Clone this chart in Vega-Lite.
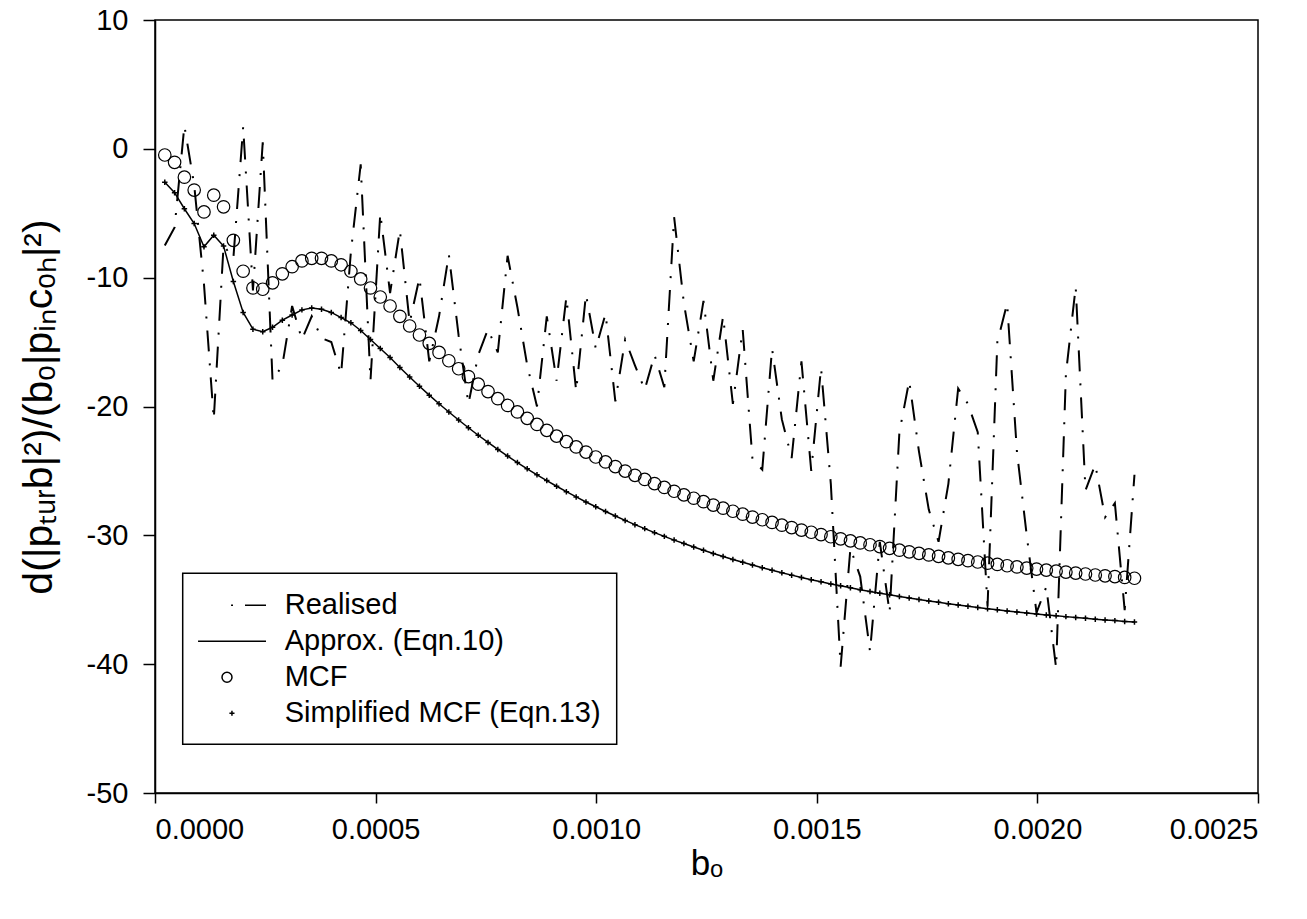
{
  "$schema": "https://vega.github.io/schema/vega-lite/v6.json",
  "width": 1103,
  "height": 773,
  "autosize": "none",
  "padding": {"left": 155, "top": 20, "right": 49, "bottom": 126},
  "background": "white",
  "config": {
    "view": {"stroke": "black", "strokeWidth": 1.5},
    "axis": {
      "labelFont": "Liberation Sans", "titleFont": "Liberation Sans",
      "labelColor": "black", "titleColor": "black", "domainColor": "black", "tickColor": "black",
      "domainWidth": 1.5, "tickWidth": 1.5, "grid": false, "titleFontWeight": "normal",
      "labelFontSize": 29
    },
    "axisY": {"tickCount": 6, "tickSize": 12, "labelPadding": 15, "titlePadding": 26, "titleFontSize": 41},
    "axisX": {"tickSize": 10, "labelPadding": 12, "titlePadding": 2, "titleFontSize": 35}
  },
  "data": {"values": [
    {"b":2.22e-5,"realised":-7.5,"approx":-2.6,"mcf":-0.48,"simplified":-2.6},
    {"b":4.44e-5,"realised":-6.1,"approx":-3.4,"mcf":-1.05,"simplified":-3.4},
    {"b":6.66e-5,"realised":1.8,"approx":-4.65,"mcf":-2.2,"simplified":-4.65},
    {"b":8.88e-5,"realised":-2.8,"approx":-5.8,"mcf":-3.2,"simplified":-5.8},
    {"b":1.11e-4,"realised":-10.5,"approx":-7.6,"mcf":-4.9,"simplified":-7.6},
    {"b":1.332e-4,"realised":-21,"approx":-6.7,"mcf":-3.6,"simplified":-6.7},
    {"b":1.554e-4,"realised":-7.5,"approx":-7.55,"mcf":-4.5,"simplified":-7.55},
    {"b":1.776e-4,"realised":-8.5,"approx":-10.3,"mcf":-7.1,"simplified":-10.3},
    {"b":1.998e-4,"realised":1.7,"approx":-12.7,"mcf":-9.5,"simplified":-12.7},
    {"b":2.22e-4,"realised":-11,"approx":-14.0,"mcf":-10.8,"simplified":-14.0},
    {"b":2.442e-4,"realised":0.5,"approx":-14.2,"mcf":-10.9,"simplified":-14.2},
    {"b":2.664e-4,"realised":-18,"approx":-13.85,"mcf":-10.4,"simplified":-13.85},
    {"b":2.886e-4,"realised":-16.8,"approx":-13.3,"mcf":-9.7,"simplified":-13.3},
    {"b":3.108e-4,"realised":-12.2,"approx":-12.9,"mcf":-9.15,"simplified":-12.9},
    {"b":3.33e-4,"realised":-14.8,"approx":-12.5,"mcf":-8.7,"simplified":-12.5},
    {"b":3.552e-4,"realised":-13,"approx":-12.35,"mcf":-8.5,"simplified":-12.35},
    {"b":3.774e-4,"realised":-14.7,"approx":-12.45,"mcf":-8.5,"simplified":-12.45},
    {"b":3.996e-4,"realised":-15,"approx":-12.7,"mcf":-8.7,"simplified":-12.7},
    {"b":4.218e-4,"realised":-17.5,"approx":-13.1,"mcf":-9.0,"simplified":-13.1},
    {"b":4.44e-4,"realised":-8,"approx":-13.5,"mcf":-9.5,"simplified":-13.5},
    {"b":4.662e-4,"realised":-1.2,"approx":-14.1,"mcf":-10.1,"simplified":-14.1},
    {"b":4.884e-4,"realised":-18,"approx":-14.8,"mcf":-10.8,"simplified":-14.8},
    {"b":5.106e-4,"realised":-5,"approx":-15.5,"mcf":-11.5,"simplified":-15.5},
    {"b":5.328e-4,"realised":-11.2,"approx":-16.2,"mcf":-12.2,"simplified":-16.2},
    {"b":5.55e-4,"realised":-6.3,"approx":-16.97,"mcf":-13.0,"simplified":-16.97},
    {"b":5.772e-4,"realised":-13.5,"approx":-17.71,"mcf":-13.75,"simplified":-17.71},
    {"b":5.994e-4,"realised":-10,"approx":-18.43,"mcf":-14.45,"simplified":-18.43},
    {"b":6.216e-4,"realised":-16.5,"approx":-19.12,"mcf":-15.1,"simplified":-19.12},
    {"b":6.438e-4,"realised":-13,"approx":-19.79,"mcf":-15.8,"simplified":-19.79},
    {"b":6.66e-4,"realised":-8.2,"approx":-20.43,"mcf":-16.45,"simplified":-20.43},
    {"b":6.882e-4,"realised":-14.5,"approx":-21.05,"mcf":-17.07,"simplified":-21.05},
    {"b":7.104e-4,"realised":-19.8,"approx":-21.65,"mcf":-17.68,"simplified":-21.65},
    {"b":7.326e-4,"realised":-16,"approx":-22.23,"mcf":-18.27,"simplified":-22.23},
    {"b":7.548e-4,"realised":-14,"approx":-22.79,"mcf":-18.84,"simplified":-22.79},
    {"b":7.77e-4,"realised":-15.8,"approx":-23.33,"mcf":-19.39,"simplified":-23.33},
    {"b":7.992e-4,"realised":-8.3,"approx":-23.85,"mcf":-19.92,"simplified":-23.85},
    {"b":8.214e-4,"realised":-12.3,"approx":-24.35,"mcf":-20.42,"simplified":-24.35},
    {"b":8.436e-4,"realised":-16.8,"approx":-24.84,"mcf":-20.92,"simplified":-24.84},
    {"b":8.658e-4,"realised":-20,"approx":-25.30,"mcf":-21.39,"simplified":-25.30},
    {"b":8.88e-4,"realised":-13,"approx":-25.75,"mcf":-21.85,"simplified":-25.75},
    {"b":9.102e-4,"realised":-18,"approx":-26.19,"mcf":-22.30,"simplified":-26.19},
    {"b":9.324e-4,"realised":-11.5,"approx":-26.61,"mcf":-22.73,"simplified":-26.61},
    {"b":9.546e-4,"realised":-18.8,"approx":-27.02,"mcf":-23.14,"simplified":-27.02},
    {"b":9.768e-4,"realised":-11.3,"approx":-27.41,"mcf":-23.54,"simplified":-27.41},
    {"b":9.99e-4,"realised":-15.5,"approx":-27.78,"mcf":-23.92,"simplified":-27.78},
    {"b":1.0212e-3,"realised":-12.8,"approx":-28.15,"mcf":-24.30,"simplified":-28.15},
    {"b":1.0434e-3,"realised":-19.6,"approx":-28.50,"mcf":-24.66,"simplified":-28.50},
    {"b":1.0656e-3,"realised":-14.8,"approx":-28.84,"mcf":-25.01,"simplified":-28.84},
    {"b":1.0878e-3,"realised":-16.8,"approx":-29.17,"mcf":-25.34,"simplified":-29.17},
    {"b":1.11e-3,"realised":-18.7,"approx":-29.48,"mcf":-25.66,"simplified":-29.48},
    {"b":1.1322e-3,"realised":-16,"approx":-29.79,"mcf":-25.98,"simplified":-29.79},
    {"b":1.1544e-3,"realised":-18.5,"approx":-30.08,"mcf":-26.28,"simplified":-30.08},
    {"b":1.1766e-3,"realised":-5.3,"approx":-30.37,"mcf":-26.58,"simplified":-30.37},
    {"b":1.1988e-3,"realised":-12,"approx":-30.64,"mcf":-26.86,"simplified":-30.64},
    {"b":1.221e-3,"realised":-16.5,"approx":-30.90,"mcf":-27.12,"simplified":-30.90},
    {"b":1.2432e-3,"realised":-11.8,"approx":-31.16,"mcf":-27.39,"simplified":-31.16},
    {"b":1.2654e-3,"realised":-18,"approx":-31.41,"mcf":-27.65,"simplified":-31.41},
    {"b":1.2876e-3,"realised":-13,"approx":-31.64,"mcf":-27.89,"simplified":-31.64},
    {"b":1.3098e-3,"realised":-19.8,"approx":-31.87,"mcf":-28.13,"simplified":-31.87},
    {"b":1.332e-3,"realised":-14,"approx":-32.09,"mcf":-28.36,"simplified":-32.09},
    {"b":1.3542e-3,"realised":-24.1,"approx":-32.31,"mcf":-28.58,"simplified":-32.31},
    {"b":1.3764e-3,"realised":-24.9,"approx":-32.51,"mcf":-28.79,"simplified":-32.51},
    {"b":1.3986e-3,"realised":-15.5,"approx":-32.71,"mcf":-29.00,"simplified":-32.71},
    {"b":1.4208e-3,"realised":-21,"approx":-32.91,"mcf":-29.21,"simplified":-32.91},
    {"b":1.443e-3,"realised":-24,"approx":-33.09,"mcf":-29.40,"simplified":-33.09},
    {"b":1.4652e-3,"realised":-16.5,"approx":-33.27,"mcf":-29.59,"simplified":-33.27},
    {"b":1.4874e-3,"realised":-25,"approx":-33.44,"mcf":-29.76,"simplified":-33.44},
    {"b":1.5096e-3,"realised":-17,"approx":-33.61,"mcf":-29.94,"simplified":-33.61},
    {"b":1.5318e-3,"realised":-26,"approx":-33.77,"mcf":-30.11,"simplified":-33.77},
    {"b":1.554e-3,"realised":-40.2,"approx":-33.92,"mcf":-30.27,"simplified":-33.92},
    {"b":1.5762e-3,"realised":-31,"approx":-34.07,"mcf":-30.43,"simplified":-34.07},
    {"b":1.5984e-3,"realised":-33.2,"approx":-34.22,"mcf":-30.59,"simplified":-34.22},
    {"b":1.6206e-3,"realised":-39,"approx":-34.36,"mcf":-30.73,"simplified":-34.36},
    {"b":1.6428e-3,"realised":-30.5,"approx":-34.49,"mcf":-30.87,"simplified":-34.49},
    {"b":1.665e-3,"realised":-36,"approx":-34.62,"mcf":-31.01,"simplified":-34.62},
    {"b":1.6872e-3,"realised":-22,"approx":-34.75,"mcf":-31.15,"simplified":-34.75},
    {"b":1.7094e-3,"realised":-18,"approx":-34.87,"mcf":-31.28,"simplified":-34.87},
    {"b":1.7316e-3,"realised":-23.5,"approx":-34.98,"mcf":-31.40,"simplified":-34.98},
    {"b":1.7538e-3,"realised":-28,"approx":-35.10,"mcf":-31.52,"simplified":-35.10},
    {"b":1.776e-3,"realised":-30.5,"approx":-35.20,"mcf":-31.63,"simplified":-35.20},
    {"b":1.7982e-3,"realised":-26,"approx":-35.31,"mcf":-31.75,"simplified":-35.31},
    {"b":1.8204e-3,"realised":-18.6,"approx":-35.41,"mcf":-31.86,"simplified":-35.41},
    {"b":1.8426e-3,"realised":-19.8,"approx":-35.51,"mcf":-31.97,"simplified":-35.51},
    {"b":1.8648e-3,"realised":-22,"approx":-35.60,"mcf":-32.07,"simplified":-35.60},
    {"b":1.887e-3,"realised":-35.5,"approx":-35.69,"mcf":-32.16,"simplified":-35.69},
    {"b":1.9092e-3,"realised":-15,"approx":-35.78,"mcf":-32.26,"simplified":-35.78},
    {"b":1.9314e-3,"realised":-12,"approx":-35.87,"mcf":-32.36,"simplified":-35.87},
    {"b":1.9536e-3,"realised":-23.5,"approx":-35.95,"mcf":-32.45,"simplified":-35.95},
    {"b":1.9758e-3,"realised":-30,"approx":-36.03,"mcf":-32.54,"simplified":-36.03},
    {"b":1.998e-3,"realised":-36,"approx":-36.10,"mcf":-32.62,"simplified":-36.10},
    {"b":2.0202e-3,"realised":-34,"approx":-36.18,"mcf":-32.70,"simplified":-36.18},
    {"b":2.0424e-3,"realised":-40.3,"approx":-36.25,"mcf":-32.78,"simplified":-36.25},
    {"b":2.0646e-3,"realised":-17.5,"approx":-36.31,"mcf":-32.85,"simplified":-36.31},
    {"b":2.0868e-3,"realised":-10.7,"approx":-36.38,"mcf":-32.93,"simplified":-36.38},
    {"b":2.109e-3,"realised":-26.5,"approx":-36.44,"mcf":-33.00,"simplified":-36.44},
    {"b":2.1312e-3,"realised":-24.5,"approx":-36.51,"mcf":-33.08,"simplified":-36.51},
    {"b":2.1534e-3,"realised":-28.6,"approx":-36.57,"mcf":-33.14,"simplified":-36.57},
    {"b":2.1756e-3,"realised":-27.5,"approx":-36.62,"mcf":-33.20,"simplified":-36.62},
    {"b":2.1978e-3,"realised":-35.8,"approx":-36.68,"mcf":-33.27,"simplified":-36.68},
    {"b":2.22e-3,"realised":-25.3,"approx":-36.73,"mcf":-33.33,"simplified":-36.73}
  ]},
  "encoding": {
    "x": {
      "field": "b", "type": "quantitative",
      "scale": {"domain": [0, 0.0025], "nice": false, "zero": false},
      "axis": {"tickCount": 5, "format": ".4f", "title": "bₒ"}
    }
  },
  "layer": [
    {
      "mark": {"type": "line", "stroke": "black", "strokeWidth": 2, "strokeDash": [21, 12, 2, 12], "strokeCap": "butt"},
      "encoding": {
        "y": {"field": "realised", "type": "quantitative", "scale": {"domain": [-50, 10], "nice": false}, "title": "d(|pₜᵤᵣb|²)/(bₒ|pᵢₙcₒₕ|²)", "axis": {"labelExpr": "replace(datum.label, '−', '-')"}}
      }
    },
    {
      "mark": {"type": "line", "strokeWidth": 1.5},
      "encoding": {
        "y": {"field": "approx", "type": "quantitative", "scale": {"domain": [-50, 10], "nice": false}, "title": "d(|pₜᵤᵣb|²)/(bₒ|pᵢₙcₒₕ|²)", "axis": {"labelExpr": "replace(datum.label, '−', '-')"}},
        "color": {
          "datum": "Approx. (Eqn.10)", "type": "nominal",
          "scale": {"domain": ["Realised", "Approx. (Eqn.10)", "MCF", "Simplified MCF (Eqn.13)"], "range": ["black", "black", "black", "black"]},
          "legend": {
            "title": null, "orient": "none", "legendX": 27.7, "legendY": 553.3, "direction": "vertical",
            "padding": 16, "strokeColor": "black", "fillColor": "white",
            "labelFont": "Liberation Sans", "labelFontSize": 29, "labelColor": "black", "labelLimit": 600,
            "labelOffset": 54, "rowPadding": 5, "symbolSize": 900, "symbolStrokeWidth": 1.5,
            "symbolStrokeColor": "black", "symbolFillColor": "transparent",
            "encode": {
              "legend": {"update": {"strokeWidth": {"value": 1.5}}},
              "symbols": {"update": {"shape": [
                {"test": "datum.value === 'Realised'", "value": "M1.09,0H1.22M2.02,0H3.42"},
                {"test": "datum.value === 'MCF'", "value": "M0.487,0A0.333,0.333,0,1,1,1.153,0A0.333,0.333,0,1,1,0.487,0Z"},
                {"test": "datum.value === 'Simplified MCF (Eqn.13)'", "value": "M0.98,0H1.32M1.15,-0.17V0.17"},
                {"value": "M-1.11,0H3.42"}
              ]}}
            }
          }
        }
      }
    },
    {
      "mark": {"type": "point", "shape": "M-1,0H1M0,-1V1", "size": 30, "filled": false, "color": "black", "strokeWidth": 1.5, "opacity": 1},
      "encoding": {
        "y": {"field": "simplified", "type": "quantitative", "scale": {"domain": [-50, 10], "nice": false}, "title": "d(|pₜᵤᵣb|²)/(bₒ|pᵢₙcₒₕ|²)", "axis": {"labelExpr": "replace(datum.label, '−', '-')"}}
      }
    },
    {
      "mark": {"type": "point", "shape": "circle", "size": 156, "filled": false, "color": "black", "strokeWidth": 1.2, "opacity": 1},
      "encoding": {
        "y": {"field": "mcf", "type": "quantitative", "scale": {"domain": [-50, 10], "nice": false}, "title": "d(|pₜᵤᵣb|²)/(bₒ|pᵢₙcₒₕ|²)", "axis": {"labelExpr": "replace(datum.label, '−', '-')"}}
      }
    }
  ]
}
